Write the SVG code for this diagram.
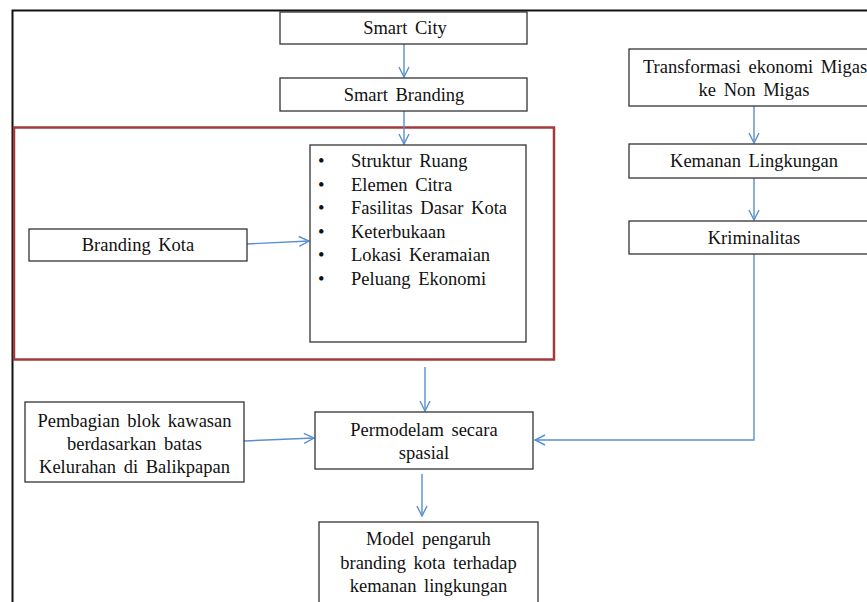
<svg xmlns="http://www.w3.org/2000/svg" width="867" height="602" viewBox="0 0 867 602">
<style>
.box{fill:#fff;stroke:#333;stroke-width:1.3}
.t{font-family:"Liberation Serif","Times New Roman",serif;font-size:18.5px;word-spacing:3px;fill:#111;text-anchor:middle}
.tl{font-family:"Liberation Serif","Times New Roman",serif;font-size:18.5px;word-spacing:3px;fill:#111}
.c{fill:none;stroke:#5b8fd0;stroke-width:1.4}
</style>
<defs>
<marker id="ah" viewBox="0 0 12 12" refX="11" refY="6" markerWidth="12" markerHeight="12" markerUnits="userSpaceOnUse" orient="auto">
<path d="M1,1 L11,6 L1,11" fill="none" stroke="#5b8fd0" stroke-width="1.4"/>
</marker>
</defs>
<rect x="0" y="0" width="867" height="602" fill="#fff"/>
<rect id="frame" x="12.5" y="10.5" width="880" height="620" fill="none" stroke="#111" stroke-width="2"/>
<rect id="branding-group" x="14" y="127.5" width="540" height="232" fill="none" stroke="#a33a3a" stroke-width="2.5"/>
<g id="connectors">
<path class="c" d="M404,44 V77" marker-end="url(#ah)"/>
<path class="c" d="M404,111 V144" marker-end="url(#ah)"/>
<path class="c" d="M247,244 L309,241" marker-end="url(#ah)"/>
<path class="c" d="M754,106 V143" marker-end="url(#ah)"/>
<path class="c" d="M754,178 V220" marker-end="url(#ah)"/>
<path class="c" d="M754,254 V440 H535" marker-end="url(#ah)"/>
<path class="c" d="M425,367 V411" marker-end="url(#ah)"/>
<path class="c" d="M244,441 L314,438" marker-end="url(#ah)"/>
<path class="c" d="M422,474 V516" marker-end="url(#ah)"/>
</g>
<g id="smart-city"><rect class="box" x="280" y="12" width="247" height="32"/><text class="t" x="405" y="34">Smart City</text></g>
<g id="smart-branding"><rect class="box" x="280" y="78" width="247" height="33"/><text class="t" x="404" y="101">Smart Branding</text></g>
<g id="elements"><rect class="box" x="310" y="145" width="216" height="197"/>
<text class="tl"><tspan x="318" y="167">•</tspan><tspan x="351" y="167">Struktur Ruang</tspan>
<tspan x="318" y="190.5">•</tspan><tspan x="351" y="190.5">Elemen Citra</tspan>
<tspan x="318" y="214">•</tspan><tspan x="351" y="214">Fasilitas Dasar Kota</tspan>
<tspan x="318" y="237.5">•</tspan><tspan x="351" y="237.5">Keterbukaan</tspan>
<tspan x="318" y="261">•</tspan><tspan x="351" y="261">Lokasi Keramaian</tspan>
<tspan x="318" y="284.5">•</tspan><tspan x="351" y="284.5">Peluang Ekonomi</tspan></text></g>
<g id="branding-kota"><rect class="box" x="29" y="229" width="218" height="32"/><text class="t" x="138" y="251">Branding Kota</text></g>
<g id="transformasi"><rect class="box" x="629" y="49" width="260" height="57"/><text class="t"><tspan x="755" y="73">Transformasi ekonomi Migas</tspan><tspan x="754" y="96">ke Non Migas</tspan></text></g>
<g id="kemanan"><rect class="box" x="629" y="144" width="260" height="34"/><text class="t" x="754" y="167">Kemanan Lingkungan</text></g>
<g id="kriminalitas"><rect class="box" x="629" y="221" width="260" height="33"/><text class="t" x="754" y="244">Kriminalitas</text></g>
<g id="pembagian"><rect class="box" x="25" y="402" width="219" height="80"/><text class="t"><tspan x="134.5" y="427">Pembagian blok kawasan</tspan><tspan x="134.5" y="450">berdasarkan batas</tspan><tspan x="134.5" y="473">Kelurahan di Balikpapan</tspan></text></g>
<g id="permodelam"><rect class="box" x="315" y="412" width="218" height="57"/><text class="t"><tspan x="424" y="436">Permodelam secara</tspan><tspan x="424" y="459">spasial</tspan></text></g>
<g id="model"><rect class="box" x="319" y="522" width="219" height="100"/><text class="t"><tspan x="428.5" y="545">Model pengaruh</tspan><tspan x="428.5" y="569">branding kota terhadap</tspan><tspan x="428.5" y="592">kemanan lingkungan</tspan></text></g>
</svg>
